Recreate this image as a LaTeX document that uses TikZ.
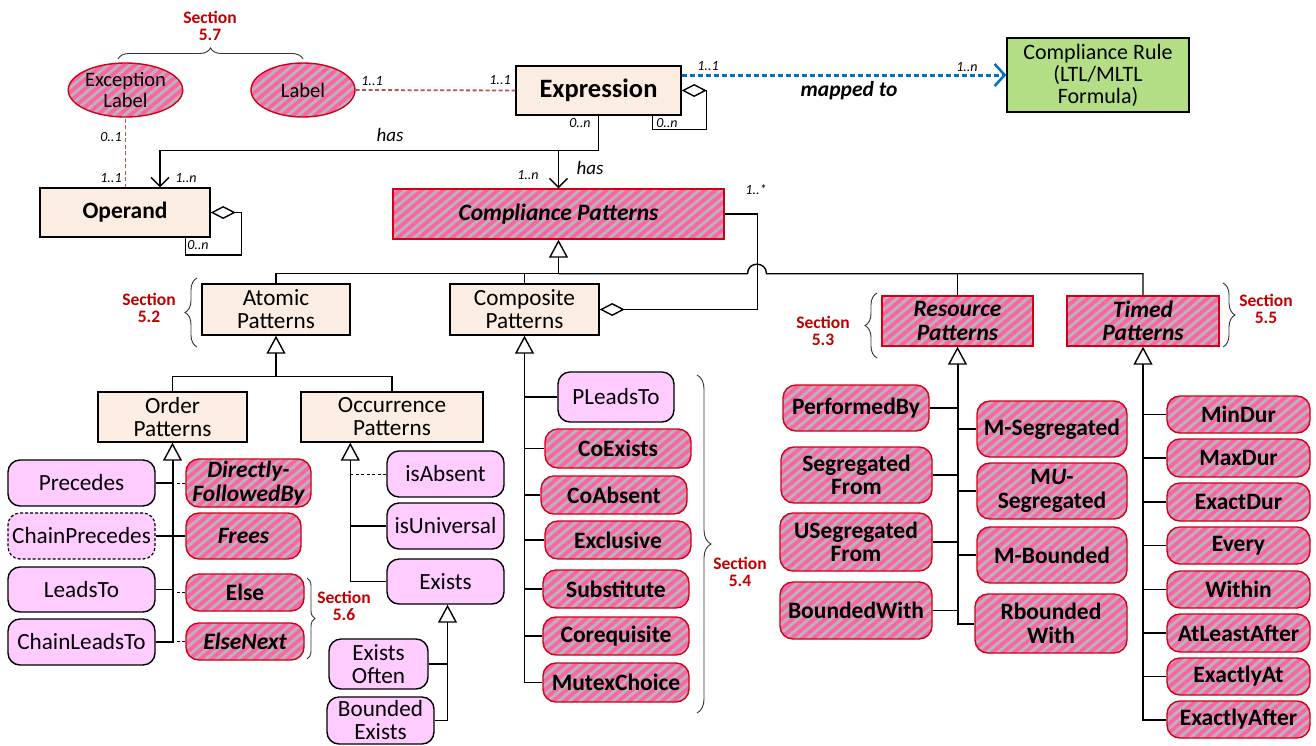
\documentclass[tikz,border=0pt]{standalone}
\usepackage{fontspec}
\setmainfont{Carlito}
\usetikzlibrary{arrows.meta,patterns.meta,decorations.pathreplacing,shapes.geometric,calc}
\definecolor{beige}{HTML}{FBEDE2}
\definecolor{pinkfill}{HTML}{FFCCFF}
\definecolor{greenbox}{HTML}{B3DE86}
\definecolor{secred}{HTML}{C00000}
\definecolor{hred}{HTML}{D00018}
\definecolor{hpink}{HTML}{FF62A6}
\definecolor{hgray}{HTML}{B6B6B6}
\definecolor{dotred}{HTML}{C0504D}
\definecolor{mapblue}{HTML}{0070C0}
\newcommand{\bx}[7]{\node[#1, minimum width=#5pt-#3pt, minimum height=#6pt-#4pt] (#2) at ({(#3+#5)/2},{(#4+#6)/2}) {#7};}
\tikzset{
  basebox/.style={draw, line width=1.4pt, align=center, inner sep=0pt, font=\fontsize{23.2}{23}\selectfont},
  beigebox/.style={basebox, fill=beige},
  greenrect/.style={basebox, fill=greenbox, font=\fontsize{22}{22}\selectfont},
  pinkbox/.style={basebox, fill=pinkfill, rounded corners=12pt},
  hatchfill/.style={preaction={fill=hgray}, pattern={Lines[angle=40,distance=7pt,line width=3.8pt]}, pattern color=hpink},
  hatchbox/.style={basebox, draw=hred, hatchfill, font=\bfseries\fontsize{23.5}{23.5}\selectfont},
  hatchround/.style={hatchbox, rounded corners=13pt},
  hatchell/.style={basebox, ellipse, draw=hred, hatchfill, font=\fontsize{20.5}{20.5}\selectfont},
  bi/.style={font=\bfseries\itshape\fontsize{23.5}{23.5}\selectfont},
  conn/.style={line width=1.4pt},
  thickconn/.style={line width=2pt},
  gen/.style={conn, -{Triangle[length=18pt,width=19pt,fill=white,line width=1.4pt]}},
  chev/.style={conn, -{Straight Barb[length=9pt,width=18pt]}},
  agg/.style={conn, {Diamond[length=25pt,width=13pt,fill=white]}-},
  reddash/.style={draw=dotred, line width=1.8pt, dash pattern=on 4pt off 2.5pt},
  bluedash/.style={draw=mapblue, line width=3pt, dash pattern=on 5pt off 3pt},
  thindash/.style={line width=1pt, dash pattern=on 3pt off 2.5pt},
  brc/.style={decorate, decoration={brace, amplitude=#1}, line width=0.9pt, draw=black!80},
  sec/.style={text=secred, font=\bfseries\fontsize{17.5}{17}\selectfont, align=center, inner sep=0pt},
  mult/.style={font=\itshape\fontsize{14}{14}\selectfont, inner sep=0pt},
  haslbl/.style={font=\itshape\fontsize{19}{18}\selectfont, inner sep=0pt}
}
\begin{document}
\begin{tikzpicture}[x=1pt,y=-1pt]
\fill[white] (0,0) rectangle (1316,745);
\useasboundingbox (0,0) rectangle (1316,745);

% ---- top ----
\node[hatchell, minimum width=113pt, minimum height=54pt] (exclabel) at (125.5,90) {Exception\\Label};
\node[hatchell, minimum width=104pt, minimum height=54pt] (label) at (303,90) {Label};
\bx{beigebox, font=\bfseries\fontsize{26.5}{28}\selectfont}{expression}{516}{66}{681}{115}{Expression}
\bx{greenrect}{rule}{1007}{38}{1189}{112}{Compliance Rule\\(LTL/MLTL\\Formula)}
\bx{beigebox, font=\bfseries\fontsize{23.5}{23}\selectfont}{operand}{40}{188}{210}{237}{Operand}
\bx{hatchbox, bi}{cp}{393}{189}{724}{239}{Compliance Patterns}

\node[sec] (s57) at (210,25.5) {Section\\5.7};
\draw[brc=11pt] (118,59) -- (303,59);

% ---- level 2 ----
\bx{beigebox}{atomic}{202}{284}{350}{335}{Atomic\\Patterns}
\bx{beigebox}{composite}{450}{284}{599}{335}{Composite\\Patterns}
\bx{hatchbox, bi}{resource}{882}{296}{1033}{346}{Resource\\Patterns}
\bx{hatchbox, bi}{timed}{1067}{296}{1219}{346}{Timed\\Patterns}

\node[sec] (s52) at (149,308) {Section\\5.2};
\draw[brc=12pt] (197,347) -- (197,278);
\node[sec] (s53) at (823,331) {Section\\5.3};
\draw[brc=12pt] (877,358) -- (877,293);
\node[sec] (s55) at (1266,309) {Section\\5.5};
\draw[brc=12pt] (1223,283) -- (1223,347);

% ---- level 3 ----
\bx{beigebox}{order}{98}{392}{247}{442}{Order\\Patterns}
\bx{beigebox}{occurrence}{301}{392}{483}{442}{Occurrence\\Patterns}

% order children
\bx{pinkbox}{precedes}{8}{460}{155}{506}{Precedes}
\bx{pinkbox, dash pattern=on 3pt off 2pt, line width=1.2pt}{chainprecedes}{8}{513}{155}{559}{ChainPrecedes}
\bx{pinkbox}{leadsto}{8}{567}{155}{612}{LeadsTo}
\bx{pinkbox}{chainleadsto}{8}{619}{155}{665}{ChainLeadsTo}
\bx{hatchround, bi}{dfb}{186}{459}{311}{507}{Directly-\\FollowedBy}
\bx{hatchround, bi}{frees}{186}{513}{301}{559}{Frees}
\bx{hatchround}{else}{186}{574}{304}{611}{Else}
\bx{hatchround, bi}{elsenext}{186}{623}{304}{660}{ElseNext}
\node[sec] (s56) at (344,606) {Section\\5.6};
\draw[brc=8pt] (307,578) -- (307,659);

% occurrence children
\bx{pinkbox}{isabsent}{387}{451}{504}{497}{isAbsent}
\bx{pinkbox}{isuniversal}{387}{503}{504}{549}{isUniversal}
\bx{pinkbox}{exists}{387}{559}{504}{604}{Exists}
\bx{pinkbox}{existsoften}{329}{639}{428}{689}{Exists\\Often}
\bx{pinkbox}{boundedexists}{327}{697}{434}{744}{Bounded\\Exists}

% composite children
\bx{pinkbox}{pleadsto}{558}{372}{674}{422}{PLeadsTo}
\bx{hatchround}{coexists}{545}{429}{691}{468}{CoExists}
\bx{hatchround}{coabsent}{541}{476}{687}{514}{CoAbsent}
\bx{hatchround}{exclusive}{545}{521}{691}{559}{Exclusive}
\bx{hatchround}{substitute}{543}{570}{689}{608}{Substitute}
\bx{hatchround}{corequisite}{543}{617}{689}{655}{Corequisite}
\bx{hatchround}{mutex}{543}{663}{689}{702}{MutexChoice}
\node[sec] (s54) at (740,572) {Section\\5.4};
\draw[brc=14pt] (697,375) -- (697,713);

% resource children
\bx{hatchround}{performedby}{783}{385}{929}{431}{PerformedBy}
\bx{hatchround}{segfrom}{781}{447}{932}{503}{Segregated\\From}
\bx{hatchround}{usegfrom}{780}{513}{932}{571}{USegregated\\From}
\bx{hatchround}{boundedwith}{780}{582}{932}{639}{BoundedWith}
\bx{hatchround}{mseg}{977}{401}{1127}{457}{M-Segregated}
\bx{hatchround}{museg}{977}{463}{1127}{519}{M\textit{U}-\\Segregated}
\bx{hatchround}{mbounded}{977}{527}{1127}{583}{M-Bounded}
\bx{hatchround}{rbounded}{975}{594}{1127}{653}{Rbounded\\With}

% timed children
\bx{hatchround}{mindur}{1167}{396}{1310}{433}{MinDur}
\bx{hatchround}{maxdur}{1167}{439}{1310}{477}{MaxDur}
\bx{hatchround}{exactdur}{1167}{483}{1310}{521}{ExactDur}
\bx{hatchround}{every}{1167}{527}{1310}{564}{Every}
\bx{hatchround}{within}{1167}{571}{1310}{608}{Within}
\bx{hatchround}{atleastafter}{1167}{614}{1310}{652}{AtLeastAfter}
\bx{hatchround}{exactlyat}{1167}{658}{1310}{695}{ExactlyAt}
\bx{hatchround}{exactlyafter}{1167}{701}{1310}{738}{ExactlyAfter}

% ---- top connectors ----
\draw[reddash] (label.east) -- (expression.west);
\draw[reddash] (exclabel.south) -- (exclabel.south |- operand.north);
\draw[bluedash, -{Straight Barb[length=10pt,width=22pt,line width=2.5pt]}] (expression.east |- rule.west) -- (rule.west);
\draw[agg] (expression.east) -- ++(25,0) -- ++(0,39) -| ($(expression.south east)+(-29,0)$);
\draw[agg] (operand.east) -- ++(31,0) -- ++(0,42.5) -| ($(operand.south east)+(-25,0)$);
\coordinate (hj) at ($(expression.south)+(0,35)$);
\draw[conn] (expression.south) -- (hj);
\draw[chev] (hj) -| (cp.north);
\draw[chev] (hj) -| ($(operand.north)+(35,0)$);
\draw[agg] (composite.east) -| ($(cp.east)+(33,0)$) -- (cp.east);

% generalization bus
\coordinate (bus) at ($(cp.south)+(0,34)$);
\draw[gen] (bus) -- (cp.south);
\draw[conn] (atomic.north) |- (bus);
\draw[conn] (composite.north) -- (composite.north |- bus);
\draw[conn] (bus) -- ($(bus)+(189,0)$) .. controls +(0,-12.7) and +(0,-12.7) .. ($(bus)+(208,0)$) -| (timed.north);
\draw[conn] (resource.north) -- (resource.north |- bus);

\coordinate (abus) at ($(atomic.south)+(0,41)$);
\draw[gen] (abus) -- (atomic.south);
\draw[conn] (order.north) |- (abus) -| (occurrence.north);

% order tree
\draw[gen, thickconn] (chainleadsto.east) -| (order.south);
\draw[conn] (precedes.east) -- (precedes.east -| order.south);
\draw[conn] (chainprecedes.east) -- (chainprecedes.east -| order.south);
\draw[conn] (leadsto.east) -- (leadsto.east -| order.south);
\draw[conn] (frees.west) -- (frees.west -| order.south);
\draw[thindash] (dfb.west) -- (dfb.west -| order.south);
\draw[thindash] (else.west) -- (else.west -| order.south);
\draw[thindash] (elsenext.west) -- (elsenext.west -| order.south);

% occurrence tree
\coordinate (occT) at ($(occurrence.south west)+(50,0)$);
\draw[gen] (exists.west) -| (occT);
\draw[conn] (isuniversal.west) -- (isuniversal.west -| occT);
\draw[thindash] (isabsent.west) -- (isabsent.west -| occT);
\coordinate (exT) at ($(exists.south)+(2,0)$);
\draw[gen] (boundedexists.east) -| (exT);
\draw[conn] (existsoften.east) -- (existsoften.east -| exT);

% composite tree
\draw[gen] (mutex.west) -| (composite.south);
\foreach \n in {pleadsto,coexists,coabsent,exclusive,substitute,corequisite}
  \draw[conn] (\n.west) -- (\n.west -| composite.south);

% resource tree
\draw[gen, thickconn] (rbounded.west) -| (resource.south);
\foreach \n in {performedby,segfrom,usegfrom,boundedwith}
  \draw[conn] (\n.east) -- (\n.east -| resource.south);
\foreach \n in {mseg,museg,mbounded}
  \draw[conn] (\n.west) -- (\n.west -| resource.south);

% timed tree
\draw[gen, thickconn] (exactlyafter.west) -| (timed.south);
\foreach \n in {mindur,maxdur,exactdur,every,within,atleastafter,exactlyat}
  \draw[conn] (\n.west) -- (\n.west -| timed.south);

% ---- labels ----
\node[mult] (m1) at (372,81) {1..1};
\node[mult] (m2) at (500,80) {1..1};
\node[mult] (m3) at (708,66) {1..1};
\node[mult] (m4) at (967,67) {1..n};
\node[mult] (m5) at (580,123) {0..n};
\node[mult] (m6) at (667,123) {0..n};
\node[mult] (m7) at (528,175) {1..n};
\node[mult] (m8) at (111,137) {0..1};
\node[mult] (m9) at (111,178) {1..1};
\node[mult] (m10) at (186,178) {1..n};
\node[mult] (m11) at (198,245) {0..n};
\node[mult] (m12) at (756,190) {1..*};
\node[haslbl] (has1) at (390,135) {has};
\node[haslbl] (has2) at (590,168) {has};
\node[font=\bfseries\itshape\fontsize{21.5}{21}\selectfont, inner sep=0pt] (mapped) at (849,91) {mapped to};
\end{tikzpicture}
\end{document}
